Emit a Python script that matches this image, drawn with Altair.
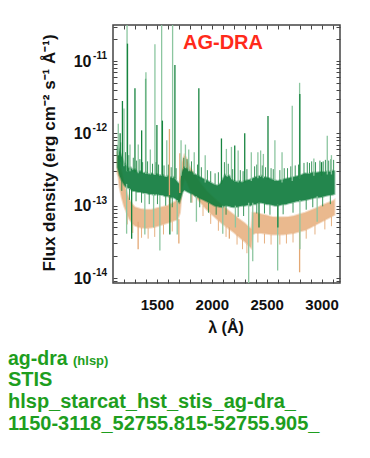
import altair as alt
import pandas as pd

# ---------------- data ----------------
green_wave = [1140, 1150, 1160, 1175, 1190, 1205, 1220, 1240, 1260, 1280, 1300, 1325, 1350, 1375,
              1400, 1425, 1450, 1475, 1500, 1525, 1550, 1575, 1600, 1625, 1650, 1670, 1690, 1705,
              1720, 1735, 1750, 1765, 1780, 1800, 1825, 1850, 1875, 1900, 1925, 1950, 1975, 2000,
              2025, 2050, 2075, 2100, 2120, 2140, 2160, 2180, 2200, 2225, 2250, 2275, 2300, 2325,
              2350, 2375, 2400, 2425, 2450, 2475, 2500, 2525, 2550, 2575, 2600, 2625, 2650, 2675,
              2700, 2725, 2750, 2775, 2800, 2825, 2850, 2875, 2900, 2925, 2950, 2975, 3000, 3025,
              3050, 3075, 3100, 3118]
green_lo = [3.4e-13, 3.0e-13, 2.6e-13, 2.3e-13, 2.1e-13, 1.9e-13, 1.8e-13, 1.75e-13, 1.7e-13, 1.6e-13,
            1.6e-13, 1.55e-13, 1.55e-13, 1.5e-13, 1.5e-13, 1.45e-13, 1.45e-13, 1.4e-13, 1.45e-13,
            1.4e-13, 1.4e-13, 1.35e-13, 1.35e-13, 1.3e-13, 1.3e-13, 1.25e-13, 1.15e-13, 1.1e-13,
            1.3e-13, 1.55e-13, 1.65e-13, 1.6e-13, 1.55e-13, 1.5e-13, 1.45e-13, 1.35e-13, 1.3e-13,
            1.25e-13, 1.2e-13, 1.15e-13, 1.1e-13, 1.05e-13, 1.0e-13, 9.8e-14, 9.6e-14, 9.5e-14,
            1.0e-13, 1.0e-13, 9.8e-14, 9.6e-14, 9.5e-14, 9.6e-14, 9.8e-14, 1.0e-13, 1.0e-13,
            1.02e-13, 1.0e-13, 1.05e-13, 1.05e-13, 1.1e-13, 1.1e-13, 1.08e-13, 1.05e-13, 1.05e-13,
            1.02e-13, 1.0e-13, 1.0e-13, 1.02e-13, 1.05e-13, 1.05e-13, 1.08e-13, 1.1e-13, 1.12e-13,
            1.15e-13, 1.15e-13, 1.18e-13, 1.2e-13, 1.22e-13, 1.25e-13, 1.28e-13, 1.3e-13, 1.3e-13,
            1.32e-13, 1.35e-13, 1.38e-13, 1.4e-13, 1.42e-13, 1.45e-13]
green_hi = [6.8e-13, 6.2e-13, 5.6e-13, 4.9e-13, 4.4e-13, 3.9e-13, 3.6e-13, 3.3e-13, 3.4e-13, 3.1e-13,
            3.2e-13, 2.9e-13, 3.0e-13, 2.8e-13, 2.9e-13, 2.7e-13, 2.8e-13, 2.65e-13, 2.75e-13,
            2.6e-13, 2.7e-13, 2.5e-13, 2.6e-13, 2.45e-13, 2.5e-13, 2.3e-13, 2.1e-13, 2.0e-13,
            2.6e-13, 3.1e-13, 3.4e-13, 3.3e-13, 3.2e-13, 3.0e-13, 2.9e-13, 2.7e-13, 2.6e-13,
            2.45e-13, 2.35e-13, 2.25e-13, 2.15e-13, 2.05e-13, 1.95e-13, 1.9e-13, 2.0e-13, 2.3e-13,
            2.7e-13, 2.5e-13, 2.6e-13, 2.3e-13, 2.2e-13, 2.15e-13, 2.2e-13, 2.1e-13, 2.2e-13,
            2.25e-13, 2.3e-13, 2.4e-13, 2.5e-13, 2.55e-13, 2.6e-13, 2.5e-13, 2.45e-13, 2.4e-13,
            2.3e-13, 2.25e-13, 2.2e-13, 2.25e-13, 2.3e-13, 2.35e-13, 2.4e-13, 2.45e-13, 2.5e-13,
            2.55e-13, 2.6e-13, 2.7e-13, 2.8e-13, 2.75e-13, 2.8e-13, 2.9e-13, 2.85e-13, 2.9e-13,
            2.95e-13, 2.9e-13, 3.0e-13, 2.95e-13, 3.05e-13, 3.0e-13]

orange_wave = [1140, 1150, 1160, 1180, 1200, 1225, 1250, 1275, 1300, 1350, 1400, 1450, 1500, 1550,
               1600, 1650, 1690, 1710, 1730, 1750, 1770, 1800, 1850, 1900, 1950, 2000, 2050, 2100,
               2150, 2200, 2250, 2300, 2340, 2360, 2370, 2400, 2450, 2500, 2550, 2600, 2650, 2700,
               2750, 2800, 2850, 2900, 2950, 3000, 3050, 3100, 3118]
orange_lo = [2.8e-13, 2.5e-13, 1.8e-13, 1.3e-13, 1.0e-13, 8.0e-14, 6.5e-14, 5.8e-14, 5.3e-14, 5.0e-14,
             4.9e-14, 5.0e-14, 5.2e-14, 5.5e-14, 5.8e-14, 6.2e-14, 6.5e-14, 8.0e-14, 1.8e-13, 2.4e-13,
             2.2e-13, 1.7e-13, 1.35e-13, 1.1e-13, 9.0e-14, 7.6e-14, 6.5e-14, 5.6e-14, 4.9e-14, 4.3e-14,
             3.7e-14, 3.2e-14, 2.8e-14, 2.6e-14, 4.0e-14, 4.2e-14, 4.2e-14, 4.1e-14, 4.0e-14, 4.0e-14,
             4.0e-14, 4.1e-14, 4.2e-14, 4.4e-14, 4.6e-14, 5.0e-14, 5.5e-14, 6.0e-14, 6.6e-14, 7.2e-14,
             7.5e-14]
orange_hi = [5.6e-13, 5.0e-13, 3.8e-13, 2.8e-13, 2.0e-13, 1.5e-13, 1.2e-13, 1.05e-13, 9.5e-14, 9.0e-14,
             8.8e-14, 8.8e-14, 9.2e-14, 9.6e-14, 1.0e-13, 1.1e-13, 1.2e-13, 1.8e-13, 4.0e-13, 5.0e-13,
             4.5e-13, 3.4e-13, 2.6e-13, 2.0e-13, 1.6e-13, 1.35e-13, 1.15e-13, 1.0e-13, 8.6e-14, 7.5e-14,
             6.5e-14, 5.7e-14, 5.0e-14, 4.8e-14, 8.0e-14, 8.0e-14, 7.6e-14, 7.3e-14, 7.0e-14, 6.9e-14,
             6.9e-14, 7.0e-14, 7.2e-14, 7.6e-14, 8.0e-14, 8.6e-14, 9.2e-14, 1.0e-13, 1.08e-13, 1.15e-13,
             1.2e-13]

# strong emission lines and absorption dips: wavelength, lower end, upper end, kind
spike_wave = [1148, 1165, 1186, 1200, 1228, 1232, 1255, 1300, 1330, 1361, 1397, 1400, 1440, 1482,
              1500, 1543, 1550, 1590, 1614, 1643, 1664, 1709, 1720, 1760, 1790, 1840, 1882, 1940,
              2088, 2133, 2179, 2209, 2240, 2300, 2360, 2420, 2445, 2470, 2512, 2575, 2640, 2733,
              2800, 2802, 2930, 3000, 3052, 3090,
              1224, 1270, 1329, 1390, 1470, 1527, 1618, 1685, 1700, 1860, 2100, 2160, 2215, 2336,
              2373, 2430, 2600, 2602, 2800, 2803, 2960]
spike_lo = [5e-13, 4e-13, 3.5e-13, 3.5e-13, 3e-13, 3e-13, 3e-13, 2.9e-13, 2.8e-13, 2.8e-13, 2.75e-13,
            2.75e-13, 2.7e-13, 2.65e-13, 2.65e-13, 2.6e-13, 2.6e-13, 2.5e-13, 1.0e-13, 2.4e-13,
            2.4e-13, 1.5e-13, 2.6e-13, 3.3e-13, 3.0e-13, 2.7e-13, 2.4e-13, 2.1e-13, 2.0e-13,
            2.6e-13, 2.4e-13, 2.2e-13, 2.1e-13, 2.1e-13, 2.2e-13, 2.4e-13, 2.5e-13, 2.4e-13,
            2.3e-13, 2.2e-13, 2.1e-13, 2.2e-13, 2.4e-13, 2.4e-13, 2.6e-13, 2.6e-13, 2.7e-13, 2.7e-13,
            4.1e-14, 3.5e-14, 2.5e-14, 4.0e-14, 5.0e-14, 2.4e-14, 4.0e-14, 4.0e-14, 3.0e-14, 6.0e-14,
            4.1e-14, 3.5e-14, 5.0e-14, 5.0e-15, 1.7e-14, 5.0e-14, 1.27e-14, 5.0e-14, 1.2e-14,
            2.5e-14, 6.0e-14]
spike_hi = [1.36e-12, 1.0e-12, 2.8e-12, 2.2e-12, 5e-11, 1.74e-11, 7e-13, 4.2e-12, 7e-13, 1.1e-12,
            5.7e-12, 7e-12, 6e-13, 1.7e-11, 1.3e-12, 5e-11, 1.5e-12, 8e-13, 1.15e-12, 5e-11,
            8.8e-12, 5.3e-13, 8e-13, 7e-13, 6e-13, 5.5e-13, 4.2e-12, 5e-13, 8.5e-13, 6.1e-13,
            6.5e-13, 6.8e-13, 5.8e-13, 1.0e-12, 5.5e-13, 5.5e-13, 5.8e-13, 5.2e-13, 1.74e-12,
            8e-13, 5.5e-13, 2.4e-12, 5.0e-12, 3.5e-12, 4.5e-13, 4e-13, 9.3e-13, 5e-13,
            2.0e-13, 1.7e-13, 6.0e-14, 1.5e-13, 1.45e-13, 1.4e-13, 1.4e-13, 1.2e-13, 6.5e-14,
            1.35e-13, 1.0e-13, 5.0e-14, 1.0e-13, 1.1e-13, 1.1e-13, 1.1e-13, 1.05e-13, 1.05e-13,
            4.4e-14, 1.2e-13, 1.35e-13]
spike_kind = ["lg", "dg", "dg", "lg", "lg", "dg", "lg", "dg", "lg", "dg", "dg", "lg", "lg", "lg",
              "dg", "lg", "dg", "lg", "or", "lg", "dg", "or", "lg", "lg", "lg", "lg", "dg", "lg",
              "dg", "lg", "lg", "dg", "lg", "dg", "lg", "lg", "lg", "lg", "dg", "lg", "lg", "lg",
              "lg", "dg", "lg", "dg", "lg", "lg",
              "lg", "dg", "or", "lg", "lg", "lg", "dg", "lg", "or", "lg", "lg", "or", "lg", "lg",
              "lg", "dg", "lg", "dg", "or", "lg", "lg"]

# small noise features on the band edges
noise_wave = [1170, 1215, 1245, 1285, 1315, 1345, 1370, 1415, 1460, 1490, 1515, 1565, 1605, 1630,
              1675, 1745, 1775, 1815, 1870, 1905, 1960, 1990, 2030, 2060, 2115, 2150, 2190, 2260,
              2285, 2320, 2390, 2410, 2460, 2490, 2540, 2560, 2620, 2660, 2690, 2720, 2760, 2790,
              2840, 2870, 2890, 2910, 2945, 2985, 3015, 3035, 3065, 3085, 3110,
              1180, 1250, 1310, 1360, 1430, 1505, 1580, 1640, 1810, 1890, 1970, 2040, 2130, 2240,
              2290, 2410, 2480, 2530, 2650, 2740, 2860, 2920, 3010, 3080,
              1230, 1280, 1360, 1420, 1480, 1560, 1640, 1820, 1920, 1990, 2060, 2130, 2230, 2280,
              2320, 2420, 2480, 2540, 2620, 2680, 2740, 2860, 2940, 3030, 3090]
noise_lo = [4.6e-13, 3.7e-13, 3.3e-13, 3.1e-13, 3.0e-13, 2.9e-13, 2.8e-13, 2.8e-13, 2.7e-13, 2.7e-13,
            2.6e-13, 2.6e-13, 2.5e-13, 2.45e-13, 2.3e-13, 3.3e-13, 3.2e-13, 2.9e-13, 2.6e-13, 2.4e-13,
            2.2e-13, 2.1e-13, 1.95e-13, 1.95e-13, 2.6e-13, 2.5e-13, 2.2e-13, 2.15e-13, 2.15e-13,
            2.2e-13, 2.45e-13, 2.5e-13, 2.55e-13, 2.45e-13, 2.35e-13, 2.3e-13, 2.2e-13, 2.3e-13,
            2.35e-13, 2.4e-13, 2.5e-13, 2.55e-13, 2.75e-13, 2.75e-13, 2.8e-13, 2.85e-13, 2.85e-13,
            2.9e-13, 2.9e-13, 2.95e-13, 2.95e-13, 3.0e-13, 3.0e-13,
            1.6e-13, 1.2e-13, 1.15e-13, 1.1e-13, 1.05e-13, 1.05e-13, 1.0e-13, 9.5e-14, 1.1e-13,
            9.5e-14, 8.0e-14, 7.5e-14, 7.5e-14, 7.0e-14, 7.2e-14, 7.8e-14, 7.8e-14, 7.5e-14,
            7.6e-14, 8.0e-14, 8.8e-14, 9.5e-14, 9.8e-14, 1.05e-13,
            5.5e-14, 4.2e-14, 3.6e-14, 3.5e-14, 3.7e-14, 4.0e-14, 4.4e-14, 1.1e-13, 7.2e-14,
            5.6e-14, 4.5e-14, 3.7e-14, 2.9e-14, 2.5e-14, 2.2e-14, 3.1e-14, 3.0e-14, 2.9e-14,
            2.9e-14, 3.0e-14, 3.1e-14, 3.5e-14, 4.0e-14, 4.7e-14, 5.2e-14]
noise_hi = [7.5e-13, 5.5e-13, 5.0e-13, 4.6e-13, 4.2e-13, 4.4e-13, 4.0e-13, 4.1e-13, 3.8e-13, 4.0e-13,
            3.7e-13, 3.6e-13, 3.7e-13, 3.4e-13, 3.3e-13, 4.6e-13, 4.4e-13, 4.1e-13, 3.7e-13, 3.4e-13,
            3.1e-13, 3.0e-13, 2.8e-13, 2.9e-13, 4.0e-13, 3.8e-13, 3.2e-13, 3.1e-13, 3.0e-13,
            3.2e-13, 3.5e-13, 3.7e-13, 3.6e-13, 3.4e-13, 3.3e-13, 3.2e-13, 3.1e-13, 3.3e-13,
            3.3e-13, 3.5e-13, 3.6e-13, 3.7e-13, 3.9e-13, 4.0e-13, 3.9e-13, 4.1e-13, 4.0e-13,
            4.2e-13, 4.1e-13, 4.3e-13, 4.2e-13, 4.4e-13, 4.3e-13,
            2.3e-13, 1.7e-13, 1.6e-13, 1.55e-13, 1.45e-13, 1.45e-13, 1.35e-13, 1.3e-13, 1.5e-13,
            1.3e-13, 1.1e-13, 1.0e-13, 1.0e-13, 9.8e-14, 1.0e-13, 1.05e-13, 1.08e-13, 1.05e-13,
            1.05e-13, 1.1e-13, 1.2e-13, 1.28e-13, 1.32e-13, 1.4e-13,
            7.8e-14, 5.8e-14, 5.0e-14, 4.9e-14, 5.1e-14, 5.5e-14, 6.1e-14, 1.5e-13, 1.0e-13,
            7.8e-14, 6.3e-14, 5.2e-14, 4.0e-14, 3.4e-14, 3.0e-14, 4.2e-14, 4.1e-14, 4.0e-14,
            4.0e-14, 4.05e-14, 4.2e-14, 4.7e-14, 5.4e-14, 6.4e-14, 7.1e-14]
noise_kind = ["dg"] * 53 + ["dg"] * 24 + ["or"] * 25

x_ticks = [1200, 1300, 1400, 1500, 1600, 1700, 1800, 1900, 2000, 2100, 2200, 2300, 2400, 2500,
           2600, 2700, 2800, 2900, 3000, 3100]
y_ticks = [9e-15, 1e-14, 2e-14, 3e-14, 4e-14, 5e-14, 6e-14, 7e-14, 8e-14, 9e-14,
           1e-13, 2e-13, 3e-13, 4e-13, 5e-13, 6e-13, 7e-13, 8e-13, 9e-13,
           1e-12, 2e-12, 3e-12, 4e-12, 5e-12, 6e-12, 7e-12, 8e-12, 9e-12,
           1e-11, 2e-11, 3e-11]
y_decades = [1e-11, 1e-12, 1e-13, 1e-14]
y_exponents = ["-11", "-12", "-13", "-14"]

title_text = "AG-DRA"
x_title = "λ (Å)"
y_title = "Flux density (erg cm⁻² s⁻¹ Å⁻¹)"
info_lines = ["STIS", "hlsp_starcat_hst_stis_ag-dra_", "1150-3118_52755.815-52755.905_"]

# ---------------- chart ----------------
FONT = "Liberation Sans"
green_df = pd.DataFrame({"wave": green_wave, "lo": green_lo, "hi": green_hi})
orange_df = pd.DataFrame({"wave": orange_wave, "lo": orange_lo, "hi": orange_hi})
spike_df = pd.DataFrame({"wave": spike_wave, "lo": spike_lo, "hi": spike_hi, "kind": spike_kind})
noise_df = pd.DataFrame({"wave": noise_wave, "lo": noise_lo, "hi": noise_hi, "kind": noise_kind})
dec_df = pd.DataFrame({"v": y_decades, "e": y_exponents})

xs = alt.Scale(domain=[1100, 3168], nice=False, zero=False)
ys = alt.Scale(type="log", domain=[8.53e-15, 3.15e-11], nice=False)
kind_scale = alt.Scale(domain=["lg", "dg", "or"], range=["#8cc6a0", "#17843f", "#e3a874"])

x_bottom = alt.Axis(values=x_ticks, format="d", labelExpr="datum.value % 500 == 0 ? datum.label : ''",
                    tickSize=4, offset=-4, domain=False, grid=False, title=None,
                    labelFont=FONT, labelFontSize=15, labelFontWeight="bold", labelColor="#111",
                    tickColor="#444", labelPadding=14, labelOverlap=False, labelFlush=False)
x_top = alt.Axis(orient="top", values=x_ticks, labels=False, tickSize=4, offset=-4, domain=False,
                 grid=False, title=None, tickColor="#444")
y_left = alt.Axis(values=y_ticks,
                  labelExpr="abs(log(datum.value)/LN10 - round(log(datum.value)/LN10)) < 0.01 ? '10' : ''",
                  tickSize=4, offset=-4, domain=False, grid=False, title=None,
                  labelFont=FONT, labelFontSize=16, labelFontWeight="bold", labelColor="#111",
                  tickColor="#444", labelPadding=22, labelOverlap=False, labelFlush=False)
y_right = alt.Axis(orient="right", values=y_ticks, labels=False, tickSize=4, offset=-4, domain=False,
                   grid=False, title=None, tickColor="#444")

orange_area = alt.Chart(orange_df).mark_area(color="#e9b688", opacity=0.95, orient="vertical", clip=True,
                                             stroke="#e9b688", strokeWidth=2, strokeOpacity=0.5).encode(
    x=alt.X("wave:Q", scale=xs, axis=x_bottom),
    y=alt.Y("lo:Q", scale=ys, axis=y_left),
    y2="hi:Q",
)
orange_noise = alt.Chart(noise_df).transform_filter("datum.kind == 'or'").mark_rule(
    strokeWidth=1, clip=True, opacity=0.9).encode(
    x=alt.X("wave:Q", scale=xs, axis=None),
    y=alt.Y("lo:Q", scale=ys, axis=None),
    y2="hi:Q",
    color=alt.Color("kind:N", scale=kind_scale, legend=None),
)
green_area = alt.Chart(green_df).mark_area(color="#0c7a3a", opacity=0.9, orient="vertical", clip=True,
                                           stroke="#0c7a3a", strokeWidth=2, strokeOpacity=0.45).encode(
    x=alt.X("wave:Q", scale=xs, axis=None),
    y=alt.Y("lo:Q", scale=ys, axis=None),
    y2="hi:Q",
)
green_noise = alt.Chart(noise_df).transform_filter("datum.kind != 'or'").mark_rule(
    strokeWidth=1, clip=True, opacity=0.85).encode(
    x=alt.X("wave:Q", scale=xs, axis=None),
    y=alt.Y("lo:Q", scale=ys, axis=None),
    y2="hi:Q",
    color=alt.Color("kind:N", scale=kind_scale, legend=None),
)
spikes = alt.Chart(spike_df).mark_rule(strokeWidth=1.3, clip=True).encode(
    x=alt.X("wave:Q", scale=xs, axis=None),
    y=alt.Y("lo:Q", scale=ys, axis=None),
    y2="hi:Q",
    color=alt.Color("kind:N", scale=kind_scale, legend=None),
)
mirror = alt.Chart(dec_df).mark_point(opacity=0).encode(
    x=alt.X("v2:Q", scale=xs, axis=x_top),
    y=alt.Y("v:Q", scale=ys, axis=y_right),
).transform_calculate(v2="2000")

exps = alt.Chart(dec_df).mark_text(font=FONT, fontSize=10, fontWeight="bold", color="#111",
                                   align="right", baseline="middle", dy=-5).encode(
    x=alt.value(-6),
    y=alt.Y("v:Q", scale=ys, axis=None),
    text="e:N",
)

def label(text, x, y, size, color="#111", angle=0, align="left", baseline="alphabetic"):
    return alt.Chart(pd.DataFrame({"t": [text]})).mark_text(
        font=FONT, fontSize=size, fontWeight="bold", color=color, align=align,
        baseline=baseline, angle=angle).encode(text="t:N", x=alt.value(x), y=alt.value(y))

GREEN_TXT = "#1e9e1e"
layers = [orange_area, orange_noise, green_area, green_noise, spikes, mirror, exps,
          label(title_text, 110, 24, 20, color="#ff2a1a", align="center"),
          label(x_title, 113, 308, 16, align="center"),
          label(y_title, -63, 128, 17, angle=270, align="center", baseline="middle"),
          label("ag-dra", -105, 340, 19.5, color=GREEN_TXT),
          label("(hlsp)", -40, 340, 13, color=GREEN_TXT)]
for i, line in enumerate(info_lines):
    layers.append(label(line, -105, 361 + 22 * i, 20, color=GREEN_TXT))

chart = alt.layer(*layers).resolve_axis(x="independent", y="independent").properties(
    width=227, height=258,
    padding={"left": 105, "top": 17, "right": 22, "bottom": 167},
    autosize=alt.AutoSizeParams(type="none"),
).configure_view(stroke="#444", strokeWidth=1.5)

chart.save("out.html", embed_options={"renderer": "svg", "actions": False})
